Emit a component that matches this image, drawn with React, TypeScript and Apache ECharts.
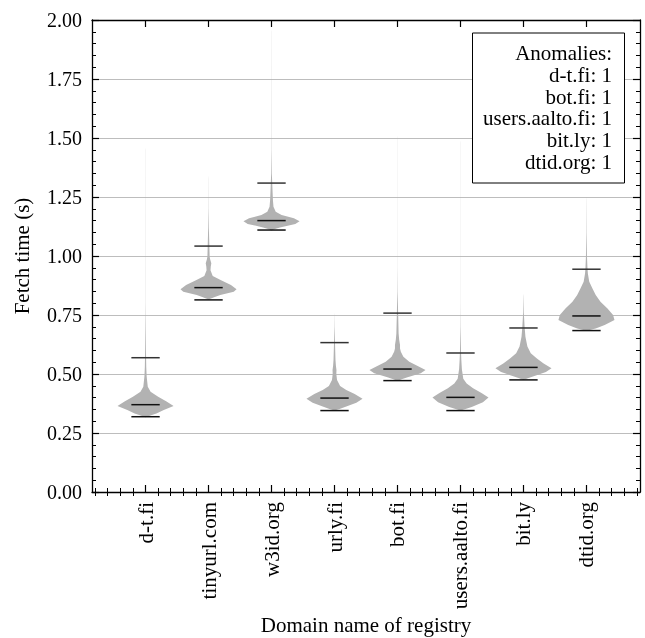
import React, { useEffect, useRef } from 'react';
import * as echarts from 'echarts';

const categories = ['d-t.fi', 'tinyurl.com', 'w3id.org', 'urly.fi', 'bot.fi', 'users.aalto.fi', 'bit.ly', 'dtid.org'];

// horizontal marker lines (s)
const minValues = [0.319, 0.814, 1.110, 0.345, 0.472, 0.345, 0.475, 0.684];
const medianValues = [0.370, 0.866, 1.150, 0.398, 0.521, 0.401, 0.528, 0.746];
const upperValues = [0.569, 1.042, 1.309, 0.633, 0.758, 0.589, 0.695, 0.944];

// violin density profiles: [fetch time (s), relative density]
const dtfiProfile = [[0.317, 0], [0.325, 0.2], [0.333, 0.39], [0.347, 0.65], [0.364, 1.0], [0.383, 0.75], [0.404, 0.45], [0.425, 0.18], [0.446, 0.08], [0.489, 0.04], [0.53, 0.025], [0.6, 0.015], [0.7, 0.008], [0.8, 0.003], [1.45, 0.002], [1.46, 0]];
const tinyurlProfile = [[0.816, 0], [0.825, 0.2], [0.835, 0.42], [0.849, 0.9], [0.859, 1.0], [0.877, 0.8], [0.898, 0.43], [0.915, 0.15], [0.94, 0.07], [0.955, 0.08], [0.969, 0.1], [0.985, 0.06], [0.997, 0.04], [1.04, 0.03], [1.12, 0.012], [1.2, 0.004], [1.33, 0.002], [1.34, 0]];
const w3idProfile = [[1.108, 0], [1.115, 0.15], [1.121, 0.3], [1.136, 0.85], [1.147, 1.0], [1.16, 0.8], [1.174, 0.36], [1.188, 0.15], [1.209, 0.07], [1.237, 0.05], [1.28, 0.035], [1.31, 0.025], [1.35, 0.012], [1.45, 0.004], [1.95, 0.002], [1.96, 0]];
const urlyProfile = [[0.345, 0], [0.352, 0.18], [0.362, 0.42], [0.378, 0.78], [0.395, 1.0], [0.415, 0.72], [0.432, 0.42], [0.449, 0.2], [0.475, 0.09], [0.5, 0.065], [0.517, 0.07], [0.535, 0.05], [0.559, 0.035], [0.63, 0.018], [0.7, 0.005], [0.75, 0.002], [0.76, 0]];
const botProfile = [[0.47, 0], [0.478, 0.15], [0.486, 0.36], [0.503, 0.83], [0.517, 1.0], [0.534, 0.72], [0.552, 0.42], [0.573, 0.21], [0.594, 0.12], [0.608, 0.09], [0.623, 0.09], [0.645, 0.06], [0.672, 0.04], [0.758, 0.022], [0.85, 0.006], [0.95, 0.002], [1.5, 0.002], [1.51, 0]];
const usersProfile = [[0.345, 0], [0.352, 0.18], [0.36, 0.4], [0.38, 0.8], [0.40, 1.0], [0.42, 0.75], [0.44, 0.45], [0.46, 0.22], [0.48, 0.1], [0.52, 0.05], [0.56, 0.03], [0.6, 0.018], [0.7, 0.005], [0.8, 0.002], [1.48, 0.002], [1.49, 0]];
const bitlyProfile = [[0.475, 0], [0.483, 0.18], [0.492, 0.39], [0.508, 0.8], [0.524, 1.0], [0.545, 0.72], [0.566, 0.48], [0.588, 0.26], [0.616, 0.14], [0.658, 0.07], [0.70, 0.04], [0.76, 0.012], [0.83, 0.003], [0.84, 0]];
const dtidProfile = [[0.682, 0], [0.687, 0.15], [0.693, 0.33], [0.708, 0.65], [0.729, 1.0], [0.75, 0.95], [0.778, 0.75], [0.806, 0.5], [0.835, 0.33], [0.863, 0.21], [0.891, 0.1], [0.926, 0.05], [0.95, 0.035], [1.0, 0.018], [1.1, 0.006], [1.24, 0.002], [1.25, 0]];
const profiles = [dtfiProfile, tinyurlProfile, w3idProfile, urlyProfile, botProfile, usersProfile, bitlyProfile, dtidProfile];

const anomalyDomains = ['d-t.fi', 'bot.fi', 'users.aalto.fi', 'bit.ly', 'dtid.org'];
const anomalyCounts = [1, 1, 1, 1, 1];

const yMin = 0;
const yMax = 2;
const yInterval = 0.25;

const FONT = 'Liberation Serif';
const TICK_FS = 20;
const TEXT_FS = 21;
const HALF_WIDTH = 0.445; // max half width of a violin (x units)
const LINE_HALF = 0.225;

export default function App() {
  const ref = useRef<HTMLDivElement>(null);

  useEffect(() => {
    const chart = echarts.init(ref.current!, null, { renderer: 'svg' });

    const majorX = categories.map((_, i) => i);
    const minorX: number[] = [];
    for (let k = -4; k <= 39; k++) {
      if (k % 5 !== 0) minorX.push(k / 5);
    }

    const baseX = {
      type: 'value',
      min: -0.85,
      max: 7.85,
      splitLine: { show: false },
      axisLine: { show: true, onZero: false, lineStyle: { color: '#000', width: 1.3 } },
    };
    const baseY = {
      type: 'value',
      min: yMin,
      max: yMax,
      interval: yInterval,
      axisLine: { show: true, onZero: false, lineStyle: { color: '#000', width: 1.3 } },
      axisTick: { show: true, inside: true, length: 7, lineStyle: { color: '#000', width: 1.2 } },
      minorTick: { show: true, splitNumber: 5, length: 4, lineStyle: { color: '#000', width: 1 } },
    };

    const option: any = {
      animation: false,
      grid: { left: 92, right: 5, top: 20, bottom: 146, containLabel: false, outerBoundsMode: 'none' },
      xAxis: [
        {
          ...baseX,
          position: 'bottom',
          axisTick: { show: true, inside: true, length: 7, customValues: majorX, lineStyle: { color: '#000', width: 1.2 } },
          axisLabel: {
            show: true,
            customValues: majorX,
            formatter: (v: number) => categories[Math.round(v)] ?? '',
            rotate: 90,
            margin: 10,
            fontSize: TEXT_FS,
            fontFamily: FONT,
            color: '#000',
          },
          name: 'Domain name of registry',
          nameLocation: 'middle',
          nameGap: 122,
          nameMoveOverlap: false,
          nameTextStyle: { fontSize: TEXT_FS, fontFamily: FONT, color: '#000' },
        },
        {
          ...baseX,
          position: 'bottom',
          axisLine: { show: false },
          axisTick: { show: true, inside: true, length: 4, customValues: minorX, lineStyle: { color: '#000', width: 1 } },
          axisLabel: { show: false },
        },
        {
          ...baseX,
          position: 'top',
          axisTick: { show: true, inside: true, length: 7, customValues: majorX, lineStyle: { color: '#000', width: 1.2 } },
          axisLabel: { show: false },
        },
        {
          ...baseX,
          position: 'top',
          axisLine: { show: false },
          axisTick: { show: true, inside: true, length: 4, customValues: minorX, lineStyle: { color: '#000', width: 1 } },
          axisLabel: { show: false },
        },
      ],
      yAxis: [
        {
          ...baseY,
          position: 'left',
          axisLabel: {
            show: true,
            formatter: (v: number) => v.toFixed(2),
            margin: 10,
            fontSize: TICK_FS,
            fontFamily: FONT,
            color: '#000',
          },
          splitLine: { show: true, lineStyle: { color: '#bdbdbd', width: 1.2 } },
          name: 'Fetch time (s)',
          nameLocation: 'middle',
          nameGap: 60,
          nameMoveOverlap: false,
          nameTextStyle: { fontSize: TEXT_FS, fontFamily: FONT, color: '#000' },
        },
        {
          ...baseY,
          position: 'right',
          axisLabel: { show: false },
          splitLine: { show: false },
        },
      ],
      series: [
        {
          type: 'custom',
          xAxisIndex: 0,
          yAxisIndex: 0,
          data: categories.map((_, i) => [i, minValues[i], medianValues[i], upperValues[i]]),
          renderItem: (params: any, api: any) => {
            const i = api.value(0);
            const prof = profiles[i];
            const pts: number[][] = [];
            for (let k = 0; k < prof.length; k++) {
              pts.push(api.coord([i + prof[k][1] * HALF_WIDTH, prof[k][0]]));
            }
            for (let k = prof.length - 1; k >= 0; k--) {
              pts.push(api.coord([i - prof[k][1] * HALF_WIDTH, prof[k][0]]));
            }
            const hline = (v: number, color: string) => {
              const a = api.coord([i - LINE_HALF, v]);
              const b = api.coord([i + LINE_HALF, v]);
              return {
                type: 'line',
                shape: { x1: a[0], y1: a[1], x2: b[0], y2: b[1] },
                style: { stroke: color, lineWidth: 1.5 },
              };
            };
            return {
              type: 'group',
              children: [
                {
                  type: 'polygon',
                  shape: { points: pts, smooth: 0 },
                  style: { fill: '#b2b2b2', stroke: null },
                },
                hline(api.value(1), '#111'),
                hline(api.value(2), '#111'),
                hline(api.value(3), '#333'),
              ],
            };
          },
        },
      ],
      graphic: [
        {
          type: 'rect',
          shape: { x: 472.5, y: 33, width: 152, height: 150 },
          style: { fill: '#fff', stroke: '#000', lineWidth: 1 },
          z: 10,
        },
        ...['Anomalies:', ...anomalyDomains.map((d, i) => `${d}: ${anomalyCounts[i]}`)].map((t, i) => ({
          type: 'text',
          x: 612,
          y: 53 + i * 21.8,
          z: 11,
          style: {
            text: t,
            fill: '#000',
            fontSize: TEXT_FS,
            fontFamily: FONT,
            align: 'right',
            verticalAlign: 'middle',
          },
        })),
      ],
    };

    chart.setOption(option);
    return () => chart.dispose();
  }, []);

  return <div ref={ref} style={{ position: 'fixed', left: 0, top: 0, width: 645, height: 638 }} />;
}
